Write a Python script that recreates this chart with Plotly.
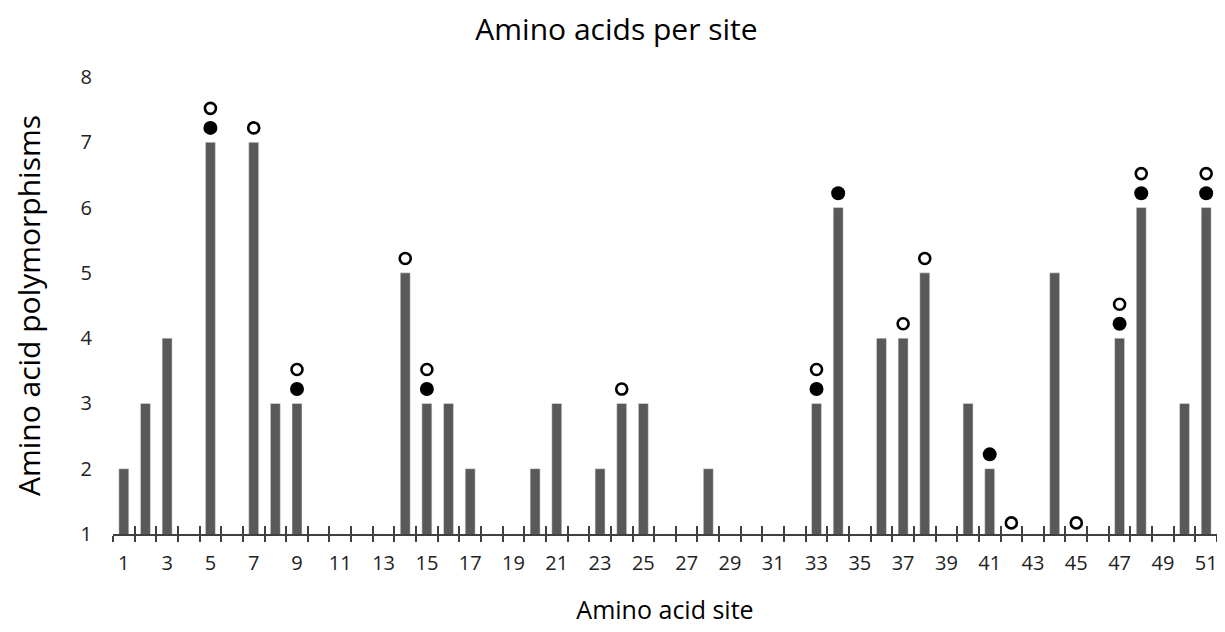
import plotly.graph_objects as go

sites = list(range(1, 52))
polymorphisms = [2, 3, 4, 1, 7, 1, 7, 3, 3, 1,
                 1, 1, 1, 5, 3, 3, 2, 1, 1, 2,
                 3, 1, 2, 3, 3, 1, 1, 2, 1, 1,
                 1, 1, 3, 6, 1, 4, 4, 5, 1, 3,
                 2, 1, 1, 5, 1, 1, 4, 6, 1, 3,
                 6]

filled_sites = [5, 9, 15, 33, 34, 41, 47, 48, 51]
filled_y = [7.22, 3.22, 3.22, 3.22, 6.22, 2.22, 4.22, 6.22, 6.22]

open_sites = [5, 7, 9, 14, 15, 24, 33, 37, 38, 42, 45, 47, 48, 51]
open_y = [7.52, 7.22, 3.52, 5.22, 3.52, 3.22, 3.52, 4.22, 5.22, 1.17, 1.17, 4.52, 6.52, 6.52]

label_sites = list(range(1, 52, 2))
boundaries = [s - 0.5 for s in sites] + [51.5]

FONT = "Open Sans"
AX = "#404040"

fig = go.Figure()
fig.add_trace(go.Bar(x=sites, y=polymorphisms, marker_color="#595959",
                     width=0.46, showlegend=False, hoverinfo="x+y"))
fig.add_trace(go.Scatter(x=filled_sites, y=filled_y, mode="markers",
                         marker=dict(size=14, color="black", line=dict(width=0)),
                         showlegend=False, cliponaxis=False))
fig.add_trace(go.Scatter(x=open_sites, y=open_y, mode="markers",
                         marker=dict(size=11, color="white", line=dict(width=2.6, color="black")),
                         showlegend=False, cliponaxis=False))
# invisible trace to hold the inner-tick axis
fig.add_trace(go.Scatter(x=[1], y=[1], xaxis="x2", mode="markers",
                         marker=dict(opacity=0), showlegend=False, hoverinfo="skip"))

fig.update_layout(
    width=1217, height=624,
    margin=dict(l=105, r=8, t=69, b=98),
    paper_bgcolor="white", plot_bgcolor="white",
    title=dict(text="Amino acids per site", x=0.5, xanchor="center", y=0.965, yanchor="middle",
               font=dict(family=FONT, size=30, color="black")),
    font=dict(family=FONT, color="black"),
    xaxis=dict(range=[0.5, 51.5], tickmode="array", tickvals=label_sites,
               ticktext=[str(s) for s in label_sites],
               ticks="outside", ticklen=10, tickcolor="rgba(0,0,0,0)",
               tickfont=dict(size=20, family=FONT, color="#222"),
               showline=True, linecolor=AX, linewidth=1.5, showgrid=False, zeroline=False,
               minor=dict(tickmode="array", tickvals=boundaries, ticks="outside",
                          ticklen=6, tickwidth=1.6, tickcolor=AX, showgrid=False),
               title=dict(text="Amino acid site", font=dict(size=25, family=FONT), standoff=27)),
    xaxis2=dict(range=[0.5, 51.5], overlaying="x", anchor="y", side="bottom",
                tickmode="array", tickvals=boundaries, ticks="inside", ticklen=8,
                tickwidth=1.6, tickcolor=AX, showticklabels=False, showgrid=False,
                zeroline=False, showline=False),
    yaxis=dict(range=[1, 8], tickmode="array", tickvals=list(range(1, 9)),
               showgrid=False, zeroline=False, showline=False,
               ticks="outside", ticklen=16, tickcolor="rgba(0,0,0,0)",
               tickfont=dict(size=20, family=FONT, color="#222"),
               title=dict(text="Amino acid polymorphisms", font=dict(size=30, family=FONT), standoff=32)),
)

fig.write_html("out.html")
